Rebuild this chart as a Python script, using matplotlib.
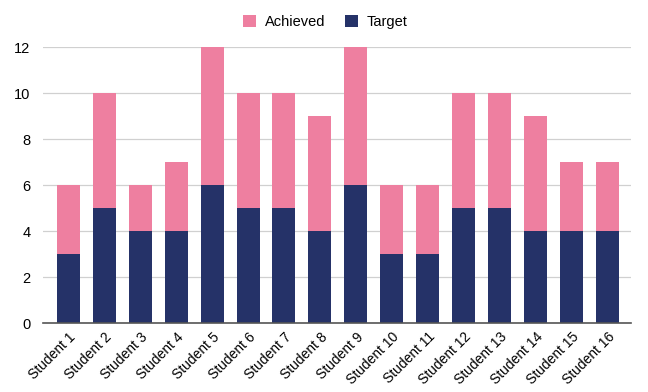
import numpy as np
import matplotlib
matplotlib.use("Agg")
import matplotlib.pyplot as plt
from matplotlib.transforms import ScaledTranslation

plt.rcParams['font.family'] = ['Liberation Sans', 'DejaVu Sans']

students = [f"Student {i}" for i in range(1, 17)]
target = [3, 5, 4, 4, 6, 5, 5, 4, 6, 3, 3, 5, 5, 4, 4, 4]
achieved = [3, 5, 2, 3, 6, 5, 5, 5, 6, 3, 3, 5, 5, 5, 3, 3]

fig = plt.figure(figsize=(6.48, 3.92), dpi=100)
ax = fig.add_axes([0.066, 0.176, 0.907, 0.704])

x = np.arange(len(students))
ax.bar(x, target, width=0.64, color="#253268", label="Target", zorder=3)
ax.bar(x, achieved, width=0.64, bottom=target, color="#EE7FA0", label="Achieved", zorder=3)

ax.set_xlim(-0.71, len(students) - 0.36)
ax.set_ylim(0, 12)
ax.set_yticks(range(0, 13, 2))
ax.set_xticks(x)
ax.set_xticklabels(students, rotation=45, ha="right", rotation_mode="anchor", fontsize=10)
off = ScaledTranslation(6 / 72, 0, fig.dpi_scale_trans)
for lbl in ax.get_xticklabels():
    lbl.set_transform(lbl.get_transform() + off)
ax.tick_params(axis="y", labelsize=10.5, length=0, pad=9)
ax.tick_params(axis="x", length=0, pad=5)
ax.grid(axis="y", color="#d0d0d0", linewidth=0.9, zorder=0)
for s in ["top", "right", "left"]:
    ax.spines[s].set_visible(False)
ax.spines["bottom"].set_color("#555555")
ax.spines["bottom"].set_linewidth(1.2)
ax.spines["bottom"].set_zorder(4)

handles, labels = ax.get_legend_handles_labels()
fig.legend(handles[::-1], labels[::-1], loc="upper center", bbox_to_anchor=(0.502, 0.995),
           ncol=2, frameon=False, fontsize=10.5, handlelength=0.9, handleheight=0.9,
           columnspacing=1.3, handletextpad=0.6)

fig.savefig("out.png", dpi=100)
